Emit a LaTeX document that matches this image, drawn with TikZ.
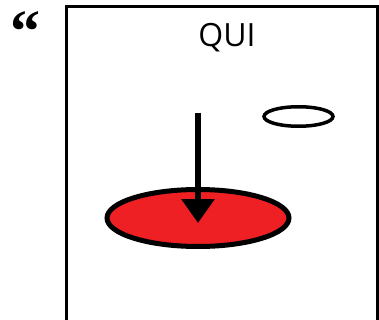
\documentclass[tikz,border=0pt]{standalone}
\usepackage{fontspec}
\setmainfont{Open Sans}
\newfontfamily\quotefont{Liberation Serif}
\usepackage{xcolor}
\usetikzlibrary{shapes.geometric, arrows.meta, positioning}
\definecolor{discred}{HTML}{EE2024}
\tikzstyle{disc} = [ellipse, minimum width=182pt, minimum height=57pt, inner sep=0pt, draw=black, line width=5pt, fill=discred]
\tikzstyle{halo} = [ellipse, minimum width=69pt, minimum height=19.5pt, inner sep=0pt, draw=black, line width=3.5pt]
\tikzstyle{arrow} = [line width=6pt, -{Triangle[length=24pt, width=32pt]}]

\begin{document}
\begin{tikzpicture}[x=1pt, y=-1pt]
    \useasboundingbox (0,0) rectangle (379,320);
    % Frame
    \draw[line width=3pt] (66.5,330) -- (66.5,6.5) -- (377.5,6.5) -- (377.5,330);
    \node[font=\fontsize{32}{34}\selectfont, anchor=base] (title) at (227,46.5) {QUI};
    \node[font=\quotefont\bfseries\fontsize{60}{60}\selectfont, anchor=north] (quote) at (25,8) {“};

    % Shapes
    \node[disc] (disc) at (198,218) {};
    \node[halo] (halo) at (298.5,116.5) {};

    % Falling arrow
    \coordinate (top) at (198,113);
    \coordinate (tip) at (198,223);
    \draw[arrow] (top) -- (tip);
\end{tikzpicture}
\end{document}
